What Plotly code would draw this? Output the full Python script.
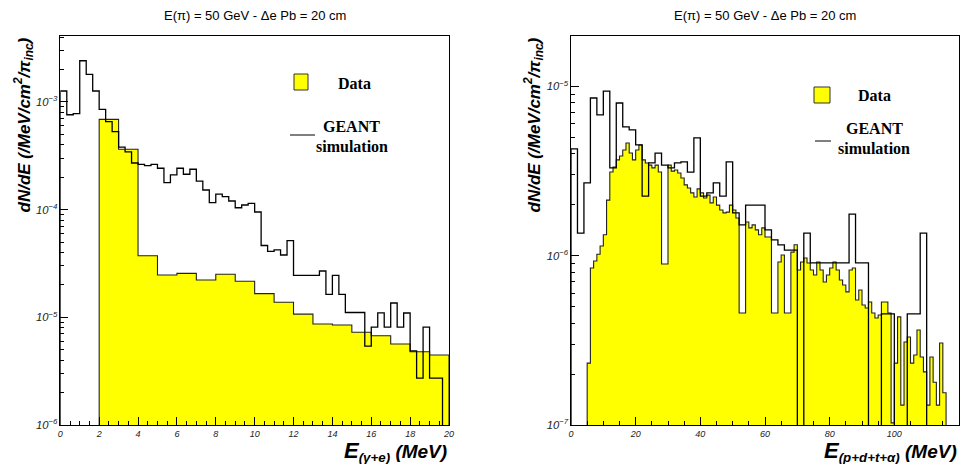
import plotly.graph_objects as go

# ---------------- data ----------------
# Left panel: E(gamma+e) in MeV
left_data_edges = [2, 3, 4, 5, 6, 7, 8, 9, 10, 11, 12, 13, 14, 15, 16, 17, 18, 19, 20]
left_data_vals = [6.89e-4, 3.63e-4, 3.73e-5, 2.47e-5, 2.56e-5, 2.22e-5, 2.51e-5, 2.16e-5,
                  1.66e-5, 1.38e-5, 1.07e-5, 8.67e-6, 8.48e-6, 7.26e-6, 6.75e-6, 5.65e-6,
                  4.79e-6, 4.47e-6]
left_geant_width = 1.0 / 3.0
left_geant_vals = [1.263e-3, 7.60e-4, 7.77e-4, 2.41e-3, 1.80e-3, 1.263e-3, 8.54e-4, 6.55e-4,
                   5.29e-4, 3.81e-4, 3.43e-4, 2.71e-4, 2.63e-4, 2.56e-4, 2.63e-4, 2.42e-4,
                   1.78e-4, 2.10e-4, 2.42e-4, 2.13e-4, 2.37e-4, 1.84e-4, 1.52e-4, 1.159e-4,
                   1.395e-4, 1.318e-4, 1.202e-4, 1.041e-4, 1.103e-4, 1.144e-4, 9.50e-5,
                   4.64e-5, 4.10e-5, 4.22e-5, 3.79e-5, 5.16e-5, 2.45e-5, 2.45e-5, 2.45e-5,
                   2.45e-5, 2.69e-5, 1.635e-5, 2.45e-5, 1.635e-5, 1.108e-5, 1.108e-5,
                   1.108e-5, 5.41e-6, 8.12e-6, 1.10e-5, 8.12e-6, 1.358e-5, 8.12e-6,
                   1.096e-5, 4.87e-6, 2.73e-6, 8.10e-6, 2.73e-6, 2.73e-6, 0.0]

# Right panel: E(p+d+t+alpha) in MeV
right_data_start = 5
right_data_width = 1.0
right_data_vals = [2.32e-7, 8.46e-7, 9.30e-7, 1.02e-6, 1.14e-6, 1.33e-6, 2.13e-6, 3.12e-6,
                   3.34e-6, 3.68e-6, 3.88e-6, 4.21e-6, 4.63e-6, 4.04e-6, 3.68e-6, 4.21e-6,
                   4.51e-6, 3.68e-6, 3.53e-6, 3.43e-6, 3.30e-6, 3.43e-6, 3.12e-6, 8.93e-7,
                   8.93e-7, 3.43e-6, 3.16e-6, 3.21e-6, 3.08e-6, 2.88e-6, 2.62e-6, 2.51e-6,
                   2.35e-6, 2.22e-6, 2.48e-6, 2.35e-6, 2.19e-6, 2.28e-6, 2.05e-6, 2.22e-6,
                   1.99e-6, 1.86e-6, 1.79e-6, 1.81e-6, 1.99e-6, 1.86e-6, 1.67e-6, 4.59e-7,
                   4.59e-7, 1.58e-6, 1.46e-6, 1.52e-6, 1.42e-6, 1.33e-6, 1.46e-6, 1.29e-6,
                   1.29e-6, 4.59e-7, 4.59e-7, 9.18e-7, 1.01e-6, 4.59e-7, 4.59e-7, 1.05e-6,
                   1.16e-6, 8.23e-7, 9.18e-7, 9.69e-7, 9.06e-7, 8.23e-7, 7.69e-7, 9.18e-7,
                   8.23e-7, 6.99e-7, 7.69e-7, 8.46e-7, 9.18e-7, 8.23e-7, 7.19e-7, 6.71e-7,
                   6.11e-7, 8.23e-7, 8.46e-7, 5.47e-7, 6.27e-7, 5.11e-7, 4.91e-7, 5.33e-7,
                   4.59e-7, 4.29e-7, 4.46e-7, 5.33e-7, 5.33e-7, 4.59e-7, 1.03e-7, 2.32e-7,
                   4.35e-7, 1.31e-7, 3.09e-7, 3.31e-7, 2.32e-7, 2.59e-7, 3.64e-7, 2.52e-7,
                   2.06e-7, 1.31e-7, 2.52e-7, 1.79e-7, 1.31e-7, 3.05e-7, 1.55e-7]
right_geant_width = 2.0
right_geant_vals = [4.27e-6, 1.36e-6, 2.69e-6, 8.54e-6, 6.78e-6, 9.39e-6, 3.30e-6, 7.98e-6,
                    5.76e-6, 5.53e-6, 4.51e-6, 2.25e-6, 3.53e-6, 4.04e-6, 3.43e-6, 3.30e-6,
                    3.53e-6, 3.58e-6, 3.12e-6, 4.96e-6, 2.25e-6, 2.35e-6, 2.69e-6, 2.25e-6,
                    3.58e-6, 1.79e-6, 1.52e-6, 1.99e-6, 1.99e-6, 1.99e-6, 1.42e-6, 1.24e-6,
                    1.16e-6, 1.08e-6, 1.08e-6, 0.0, 1.36e-6, 9.06e-7, 9.06e-7, 9.06e-7,
                    9.06e-7, 9.06e-7, 9.06e-7, 1.76e-6, 9.06e-7, 9.06e-7, 0.0, 0.0,
                    4.53e-7, 4.53e-7, 0.0, 0.0, 4.53e-7, 4.53e-7, 1.36e-6, 0.0, 0.0, 0.0,
                    0.0, 0.0]

title_text = "E(π) = 50 GeV - Δe Pb = 20 cm"
left_x_ticks = [0, 2, 4, 6, 8, 10, 12, 14, 16, 18, 20]
right_x_ticks = [0, 20, 40, 60, 80, 100, 120]

FLOOR = 1e-9
YELLOW = "#FFFF00"


def steps(x0, width, vals):
    n = len(vals)
    edges = [x0 + i * width for i in range(n + 1)]
    xs = [edges[0]]
    ys = [FLOOR]
    for i, v in enumerate(vals):
        v = v if v > 0 else FLOOR
        xs += [edges[i], edges[i + 1]]
        ys += [v, v]
    xs.append(edges[-1])
    ys.append(FLOOR)
    return xs, ys


fig = go.Figure()

# left panel
lx, ly = steps(left_data_edges[0], 1.0, left_data_vals)
fig.add_trace(go.Scatter(x=lx, y=ly, mode="lines", fill="toself", fillcolor=YELLOW,
                         line=dict(color="#222222", width=1.1), xaxis="x", yaxis="y",
                         showlegend=False, hoverinfo="skip"))
gx, gy = steps(0.0, left_geant_width, left_geant_vals)
fig.add_trace(go.Scatter(x=gx, y=gy, mode="lines", line=dict(color="black", width=1.3),
                         xaxis="x", yaxis="y", showlegend=False, hoverinfo="skip"))

# right panel
rx, ry = steps(right_data_start, right_data_width, right_data_vals)
fig.add_trace(go.Scatter(x=rx, y=ry, mode="lines", fill="toself", fillcolor=YELLOW,
                         line=dict(color="#222222", width=1.1), xaxis="x2", yaxis="y2",
                         showlegend=False, hoverinfo="skip"))
gx2, gy2 = steps(0.0, right_geant_width, right_geant_vals)
fig.add_trace(go.Scatter(x=gx2, y=gy2, mode="lines", line=dict(color="black", width=1.3),
                         xaxis="x2", yaxis="y2", showlegend=False, hoverinfo="skip"))

W, H = 965, 464
LX = [60.3 / W, 449 / W]
RX = [571 / W, 959 / W]
YD = [(H - 425) / H, (H - 36) / H]

tickfont = dict(family="Liberation Sans", size=9, color="#222222", style="italic")
common_x = dict(showgrid=False, zeroline=False, showline=True, mirror=True,
                linecolor="black", linewidth=1, ticks="inside", ticklen=8,
                tickcolor="black", tickfont=tickfont, automargin=False)
common_y = dict(type="log", showgrid=False, zeroline=False, showline=True, mirror=True,
                linecolor="black", linewidth=1, ticks="inside", ticklen=8,
                tickcolor="black", tickfont=tickfont, dtick=1, automargin=False,
                exponentformat="power", showexponent="all",
                minor=dict(ticks="inside", ticklen=4, tickcolor="black", dtick="D1"))

fig.update_layout(
    template="none",
    width=W, height=H, margin=dict(l=0, r=0, t=0, b=0, autoexpand=False),
    paper_bgcolor="white", plot_bgcolor="white",
    xaxis=dict(domain=LX, range=[0, 20], anchor="y", tickvals=left_x_ticks,
               minor=dict(ticks="inside", ticklen=4, tickcolor="black", dtick=0.5),
               **common_x),
    yaxis=dict(domain=YD, range=[-6, -2.388], anchor="x", **common_y),
    xaxis2=dict(domain=RX, range=[0, 120], anchor="y2", tickvals=right_x_ticks,
                minor=dict(ticks="inside", ticklen=4, tickcolor="black", dtick=5),
                **common_x),
    yaxis2=dict(domain=YD, range=[-7, -4.7023], anchor="x2", **common_y),
)


def px(x):
    return x / W


def py(y):
    return (H - y) / H


ann = []
title_font = dict(family="Liberation Sans", size=13, color="black")
ann.append(dict(x=px(254.5), y=py(16), xref="paper", yref="paper", text=title_text,
                showarrow=False, font=title_font, xanchor="center", yanchor="middle"))
ann.append(dict(x=px(764.5), y=py(16), xref="paper", yref="paper", text=title_text,
                showarrow=False, font=title_font, xanchor="center", yanchor="middle"))

ytitle = "<b><i>dN/dE (/MeV/cm<sup>2</sup>/π<sub>inc</sub>)</i></b>"
axfont = dict(family="Liberation Sans", size=17, color="black")
ann.append(dict(x=px(24), y=py(36), xref="paper", yref="paper", text=ytitle,
                textangle=-90, showarrow=False, font=axfont, xanchor="center", yanchor="top"))
ann.append(dict(x=px(534), y=py(36), xref="paper", yref="paper", text=ytitle,
                textangle=-90, showarrow=False, font=axfont, xanchor="center", yanchor="top"))

xfont = dict(family="Liberation Sans", size=19, color="black")
ann.append(dict(x=px(449), y=py(451), xref="paper", yref="paper",
                text="<b><i><span style='font-size:22px'>E</span><sub>(γ+e)</sub> (MeV)</i></b>",
                showarrow=False, font=xfont, xanchor="right", yanchor="middle"))
ann.append(dict(x=px(959), y=py(451), xref="paper", yref="paper",
                text="<b><i><span style='font-size:22px'>E</span><sub>(p+d+t+α)</sub> (MeV)</i></b>",
                showarrow=False, font=xfont, xanchor="right", yanchor="middle"))

legfont = dict(family="Liberation Serif", size=16, color="black")
# left legend texts
ann.append(dict(x=px(354), y=py(83), xref="paper", yref="paper", text="<b>Data</b>",
                showarrow=False, font=legfont, xanchor="center", yanchor="middle"))
ann.append(dict(x=px(351), y=py(126), xref="paper", yref="paper", text="<b>GEANT</b>",
                showarrow=False, font=legfont, xanchor="center", yanchor="middle"))
ann.append(dict(x=px(352), y=py(146), xref="paper", yref="paper", text="<b>simulation</b>",
                showarrow=False, font=legfont, xanchor="center", yanchor="middle"))
# right legend texts
ann.append(dict(x=px(874), y=py(95), xref="paper", yref="paper", text="<b>Data</b>",
                showarrow=False, font=legfont, xanchor="center", yanchor="middle"))
ann.append(dict(x=px(874), y=py(128), xref="paper", yref="paper", text="<b>GEANT</b>",
                showarrow=False, font=legfont, xanchor="center", yanchor="middle"))
ann.append(dict(x=px(874), y=py(149), xref="paper", yref="paper", text="<b>simulation</b>",
                showarrow=False, font=legfont, xanchor="center", yanchor="middle"))

shapes = [
    dict(type="rect", xref="paper", yref="paper", x0=px(294), x1=px(308), y0=py(90), y1=py(74),
         fillcolor=YELLOW, line=dict(color="#333333", width=1)),
    dict(type="line", xref="paper", yref="paper", x0=px(290), x1=px(315), y0=py(135), y1=py(135),
         line=dict(color="black", width=1)),
    dict(type="rect", xref="paper", yref="paper", x0=px(814), x1=px(830), y0=py(103), y1=py(87),
         fillcolor=YELLOW, line=dict(color="#333333", width=1)),
    dict(type="line", xref="paper", yref="paper", x0=px(815), x1=px(831), y0=py(141), y1=py(141),
         line=dict(color="black", width=1)),
]

fig.update_layout(annotations=ann, shapes=shapes)
fig.write_html("out.html", config={"displayModeBar": False},
               post_script="document.body.style.margin='0';document.body.style.padding='0';")
